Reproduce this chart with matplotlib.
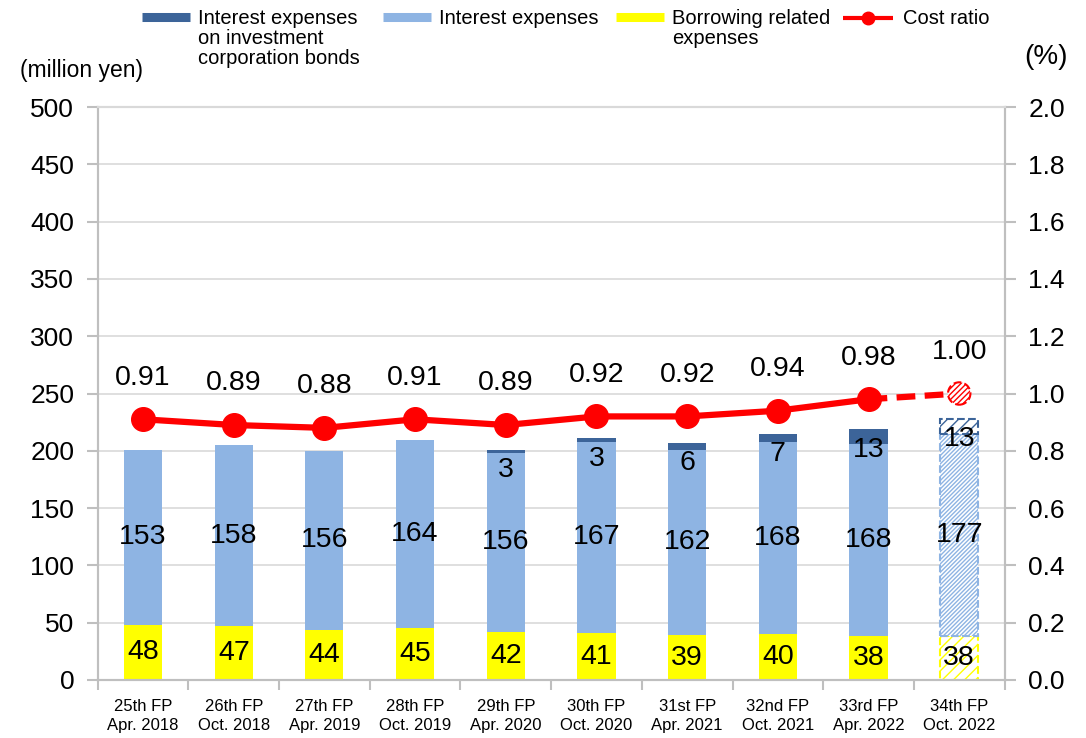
import numpy as np
import matplotlib
matplotlib.use("Agg")
import matplotlib.pyplot as plt
from matplotlib.lines import Line2D

plt.rcParams['font.family'] = ['Liberation Sans', 'DejaVu Sans']

# Chart data
periods = ['25th FP\nApr. 2018', '26th FP\nOct. 2018', '27th FP\nApr. 2019', '28th FP\nOct. 2019',
           '29th FP\nApr. 2020', '30th FP\nOct. 2020', '31st FP\nApr. 2021', '32nd FP\nOct. 2021',
           '33rd FP\nApr. 2022', '34th FP\nOct. 2022']
borrowing = [48, 47, 44, 45, 42, 41, 39, 40, 38, 38]
interest = [153, 158, 156, 164, 156, 167, 162, 168, 168, 177]
bonds = [0, 0, 0, 0, 3, 3, 6, 7, 13, 13]
cost_ratio = [0.91, 0.89, 0.88, 0.91, 0.89, 0.92, 0.92, 0.94, 0.98, 1.00]
left_ticks = [0, 50, 100, 150, 200, 250, 300, 350, 400, 450, 500]
right_ticks = [0.0, 0.2, 0.4, 0.6, 0.8, 1.0, 1.2, 1.4, 1.6, 1.8, 2.0]

c_bond = '#3C6499'
c_int = '#8EB4E3'
c_yel = '#FFFF00'
c_red = '#FF0000'
c_axis = '#BFBFBF'

n = len(periods)
x = np.arange(n)
act = x[:-1]  # actual periods, last one is forecast
fc = n - 1
borrowing = np.array(borrowing)
interest = np.array(interest)
bonds = np.array(bonds)

fig = plt.figure(figsize=(10.86, 7.38), dpi=100)
ax = fig.add_axes([0.090, 0.0786, 0.835, 0.7764])
ax2 = ax.twinx()

w = 0.42
# actual bars
ax.bar(act, borrowing[:-1], w, color=c_yel, zorder=2)
ax.bar(act, interest[:-1], w, bottom=borrowing[:-1], color=c_int, zorder=2)
ax.bar(act, bonds[:-1], w, bottom=(borrowing + interest)[:-1], color=c_bond, zorder=2)

# forecast bar (hatched)
ax.bar(fc, borrowing[fc], w, facecolor='white', edgecolor=c_yel, hatch='///',
       linestyle='--', linewidth=1.5, zorder=2)
ax.bar(fc, interest[fc], w, bottom=borrowing[fc], facecolor='white', edgecolor=c_int,
       hatch='////////', linestyle='--', linewidth=1.5, zorder=2)
ax.bar(fc, bonds[fc], w, bottom=borrowing[fc] + interest[fc], facecolor='white',
       edgecolor=c_bond, hatch='///', linestyle='--', linewidth=1.5, zorder=2)

# bar labels
fs = 20.5
for i in x:
    ax.text(i, borrowing[i] / 2, str(borrowing[i]), ha='center', va='center', fontsize=fs, zorder=5)
    ax.text(i, borrowing[i] + interest[i] / 2, str(interest[i]), ha='center', va='center',
            fontsize=fs, zorder=5)
    if bonds[i] > 0:
        top = borrowing[i] + interest[i] + bonds[i]
        ax.text(i, top - 18, str(bonds[i]), ha='center', va='center', fontsize=fs, zorder=5)

# cost ratio line
ax2.plot(act, cost_ratio[:-1], color=c_red, lw=4.5, marker='o', markersize=17, zorder=4)
ax2.plot(x[-2:], cost_ratio[-2:], color=c_red, lw=4.5, linestyle=(0, (3, 1.5)), zorder=3)
ax2.scatter([fc], [cost_ratio[fc]], s=260, facecolor='white', edgecolor=c_red, hatch='//////',
            linestyle='--', linewidth=1.5, zorder=5)
for i in x:
    ax2.text(i, cost_ratio[i] + 0.145, f'{cost_ratio[i]:.2f}', ha='center', va='center', fontsize=fs)

# axes formatting
ax.set_xlim(-0.5, n - 0.5)
ax.set_ylim(0, 500)
ax2.set_ylim(0, 2.0)
ax.set_yticks(left_ticks)
ax2.set_yticks(right_ticks)
ax2.set_yticklabels([f'{t:.1f}' for t in right_ticks])
ax.set_xticks(x)
ax.set_xticklabels(periods, fontsize=12, linespacing=1.33)
ax.set_xticks(np.arange(-0.5, n, 1.0), minor=True)
ax.tick_params(axis='x', which='major', length=0, pad=14)
ax.tick_params(axis='x', which='minor', length=7, color=c_axis, width=1.5)
ax.tick_params(axis='y', labelsize=19, length=8, color=c_axis, width=1.5, pad=9)
ax2.tick_params(axis='y', labelsize=19, length=8, color=c_axis, width=1.5, pad=9)

ax.yaxis.grid(True, color='#D9D9D9', lw=1.2, zorder=0)
ax.set_axisbelow(True)
for a in (ax, ax2):
    for s in a.spines.values():
        s.set_color(c_axis)
        s.set_linewidth(1.5)
    a.spines['top'].set_color('#D9D9D9')

fig.text(0.0755, 0.905, '(million yen)', ha='center', va='center', fontsize=16.5)
fig.text(0.963, 0.923, '(%)', ha='center', va='center', fontsize=20)

# legend drawn in figure pixels
W, H = 1086.0, 738.0
def fx(px):
    return px / W
def fy(py):
    return 1 - py / H

leg_items = [
    (142, c_bond, 'Interest expenses\non investment\ncorporation bonds'),
    (383, c_int, 'Interest expenses'),
    (616, c_yel, 'Borrowing related\nexpenses'),
]
for x0, col, lab in leg_items:
    fig.add_artist(Line2D([fx(x0), fx(x0 + 48)], [fy(17), fy(17)], color=col, lw=6.5,
                          solid_capstyle='butt', transform=fig.transFigure))
    fig.text(fx(x0 + 56), fy(9.5), lab, ha='left', va='top', fontsize=14.5, linespacing=1.04)
fig.add_artist(Line2D([fx(843), fx(893)], [fy(18), fy(18)], color=c_red, lw=3,
                      solid_capstyle='butt', transform=fig.transFigure))
fig.add_artist(Line2D([fx(868)], [fy(18)], color=c_red, marker='o', markersize=9,
                      transform=fig.transFigure))
fig.text(fx(903), fy(19), 'Cost ratio', ha='left', va='center', fontsize=14.5)

fig.savefig('out.png', dpi=100)
plt.close(fig)
